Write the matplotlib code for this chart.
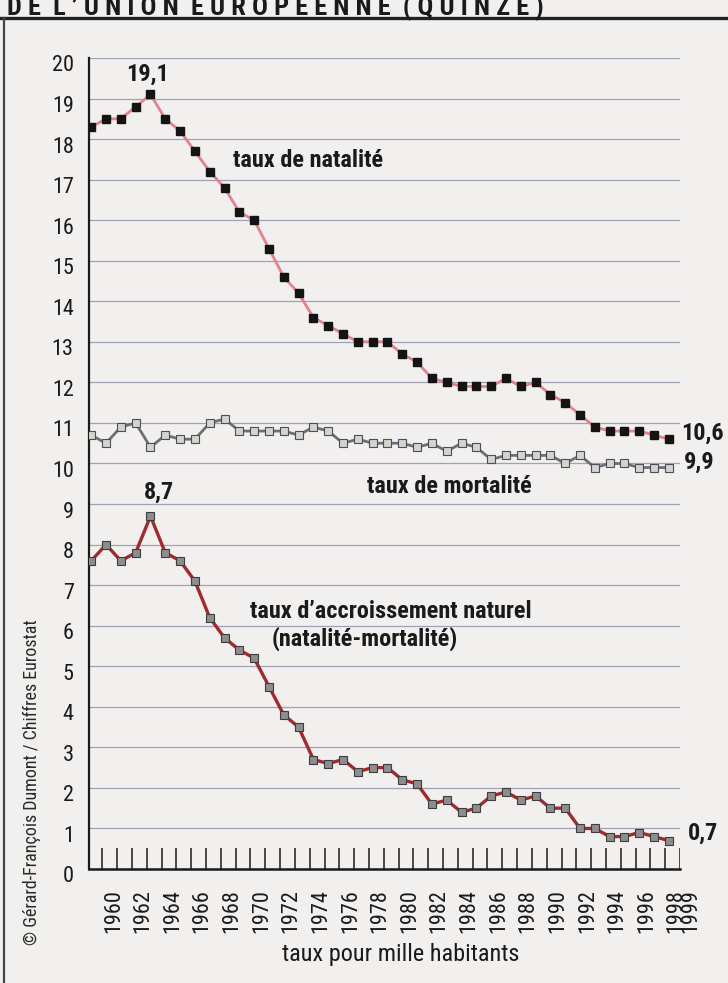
import matplotlib
matplotlib.use('Agg')
import matplotlib.pyplot as plt
import matplotlib.transforms as mtransforms
from matplotlib.lines import Line2D

plt.rcParams['font.family'] = ['Roboto Condensed', 'PT Sans Narrow', 'DejaVu Sans']

# données (taux pour mille habitants), Europe des Quinze
annees = list(range(1959, 1999))
natalite = [18.3, 18.5, 18.5, 18.8, 19.1, 18.5, 18.2, 17.7, 17.2, 16.8,
            16.2, 16.0, 15.3, 14.6, 14.2, 13.6, 13.4, 13.2, 13.0, 13.0,
            13.0, 12.7, 12.5, 12.1, 12.0, 11.9, 11.9, 11.9, 12.1, 11.9,
            12.0, 11.7, 11.5, 11.2, 10.9, 10.8, 10.8, 10.8, 10.7, 10.6]
mortalite = [10.7, 10.5, 10.9, 11.0, 10.4, 10.7, 10.6, 10.6, 11.0, 11.1,
             10.8, 10.8, 10.8, 10.8, 10.7, 10.9, 10.8, 10.5, 10.6, 10.5,
             10.5, 10.5, 10.4, 10.5, 10.3, 10.5, 10.4, 10.1, 10.2, 10.2,
             10.2, 10.2, 10.0, 10.2, 9.9, 10.0, 10.0, 9.9, 9.9, 9.9]
accroissement = [7.6, 8.0, 7.6, 7.8, 8.7, 7.8, 7.6, 7.1, 6.2, 5.7,
                 5.4, 5.2, 4.5, 3.8, 3.5, 2.7, 2.6, 2.7, 2.4, 2.5,
                 2.5, 2.2, 2.1, 1.6, 1.7, 1.4, 1.5, 1.8, 1.9, 1.7,
                 1.8, 1.5, 1.5, 1.0, 1.0, 0.8, 0.8, 0.9, 0.8, 0.7]
etiquettes_annees = list(range(1960, 1999, 2)) + [1999]
graduations_y = list(range(0, 21))

PAPIER = '#f1f0ee'
ENCRE = '#1b1a1a'


def virgule(v):
    return f"{v:.1f}".replace('.', ',')


W, H = 728, 983
fig = plt.figure(figsize=(W / 100, H / 100), dpi=100, facecolor=PAPIER)
ax = fig.add_axes([89 / W, (H - 869) / H, (680 - 89) / W, (869 - 58) / H])
ax.set_facecolor(PAPIER)
ax.set_xlim(1958.85, 1998.75)
ax.set_ylim(0, 20)

# grille et axes
ax.set_yticks(graduations_y)
ax.set_yticklabels([str(v) for v in graduations_y])
ax.yaxis.grid(True, color='#a29fb8', lw=0.9)
ax.set_axisbelow(True)
ax.tick_params(axis='y', length=0, pad=11, labelsize=16, labelcolor=ENCRE)
decal = mtransforms.ScaledTranslation(0, -0.055, fig.dpi_scale_trans)
for lab in ax.get_yticklabels():
    lab.set_transform(lab.get_transform() + decal)
ax.set_xticks([])
for s in ['top', 'right']:
    ax.spines[s].set_visible(False)
ax.spines['left'].set_linewidth(1.6)
ax.spines['bottom'].set_linewidth(1.8)
ax.spines['left'].set_color(ENCRE)
ax.spines['bottom'].set_color(ENCRE)

# petites graduations verticales
ax.vlines([a + 0.75 for a in annees], 0, 0.52, color=ENCRE, lw=1.1)

# années
for a in etiquettes_annees:
    ax.text(a + 0.5, -0.052, str(a), transform=ax.get_xaxis_transform(),
            rotation=90, ha='center', va='center', fontsize=16, color=ENCRE)

# séries
ax.plot(annees, natalite, color='#e3828d', lw=2, marker='s', ms=6.4,
        mfc='#141414', mec='#141414', zorder=3)
ax.plot(annees, mortalite, color='#6f6e72', lw=2, marker='s', ms=6.2,
        mfc='#d3d3cf', mec='#4e4c5c', mew=0.8, zorder=3)
ax.plot(annees, accroissement, color='#a02a2e', lw=2.4, marker='s', ms=6.2,
        mfc='#8d8d8d', mec='#3d3d3d', mew=0.8, zorder=3)

gras = dict(fontweight='bold', color=ENCRE, fontsize=17.5)

# valeurs remarquables
i_max = natalite.index(max(natalite))
ax.text(annees[i_max] - 0.2, natalite[i_max] + 0.5, virgule(natalite[i_max]),
        ha='center', va='center', **gras)
j_max = accroissement.index(max(accroissement))
ax.text(annees[j_max] + 0.55, accroissement[j_max] + 0.6,
        virgule(accroissement[j_max]), ha='center', va='center', **gras)
ax.text(annees[-1] + 0.85, natalite[-1] + 0.15, virgule(natalite[-1]),
        ha='left', va='center', clip_on=False, **gras)
ax.text(annees[-1] + 1.0, mortalite[-1] + 0.12, virgule(mortalite[-1]),
        ha='left', va='center', clip_on=False, **gras)
ax.text(annees[-1] + 1.25, accroissement[-1] + 0.18, virgule(accroissement[-1]),
        ha='left', va='center', clip_on=False, **gras)

# noms des séries
ax.text(1968.55, 17.48, 'taux de natalité', ha='left', va='center', **gras)
ax.text(1977.6, 9.44, 'taux de mortalité', ha='left', va='center', **gras)
ax.text(1969.7, 6.36, 'taux d\u2019accroissement naturel', ha='left',
        va='center', **gras)
ax.text(1971.2, 5.67, '(natalité-mortalité)', ha='left', va='center', **gras)

# textes hors du graphique
fig.text(401 / W, 1 - 955 / H, 'taux pour mille habitants', ha='center',
         va='center', fontsize=17.5, color=ENCRE)
fig.text(32 / W, 1 - 782 / H, '© Gérard-François Dumont / Chiffres Eurostat',
         rotation=90, ha='center', va='center', fontsize=13, color='#2a2a2a')
fig.text(7 / W, 1 - 14 / H,
         'D E  L \u2019 U N I O N  E U R O P É E N N E  ( Q U I N Z E )',
         ha='left', va='baseline', fontsize=19, fontweight='bold', color=ENCRE)

# cadre de la page
fig.add_artist(Line2D([0, 1], [1 - 18 / H] * 2, color='#222', lw=2.4))
fig.add_artist(Line2D([4 / W] * 2, [0, 1 - 18 / H], color='#444', lw=1.6))

fig.savefig('out.png', dpi=100, facecolor=PAPIER)
